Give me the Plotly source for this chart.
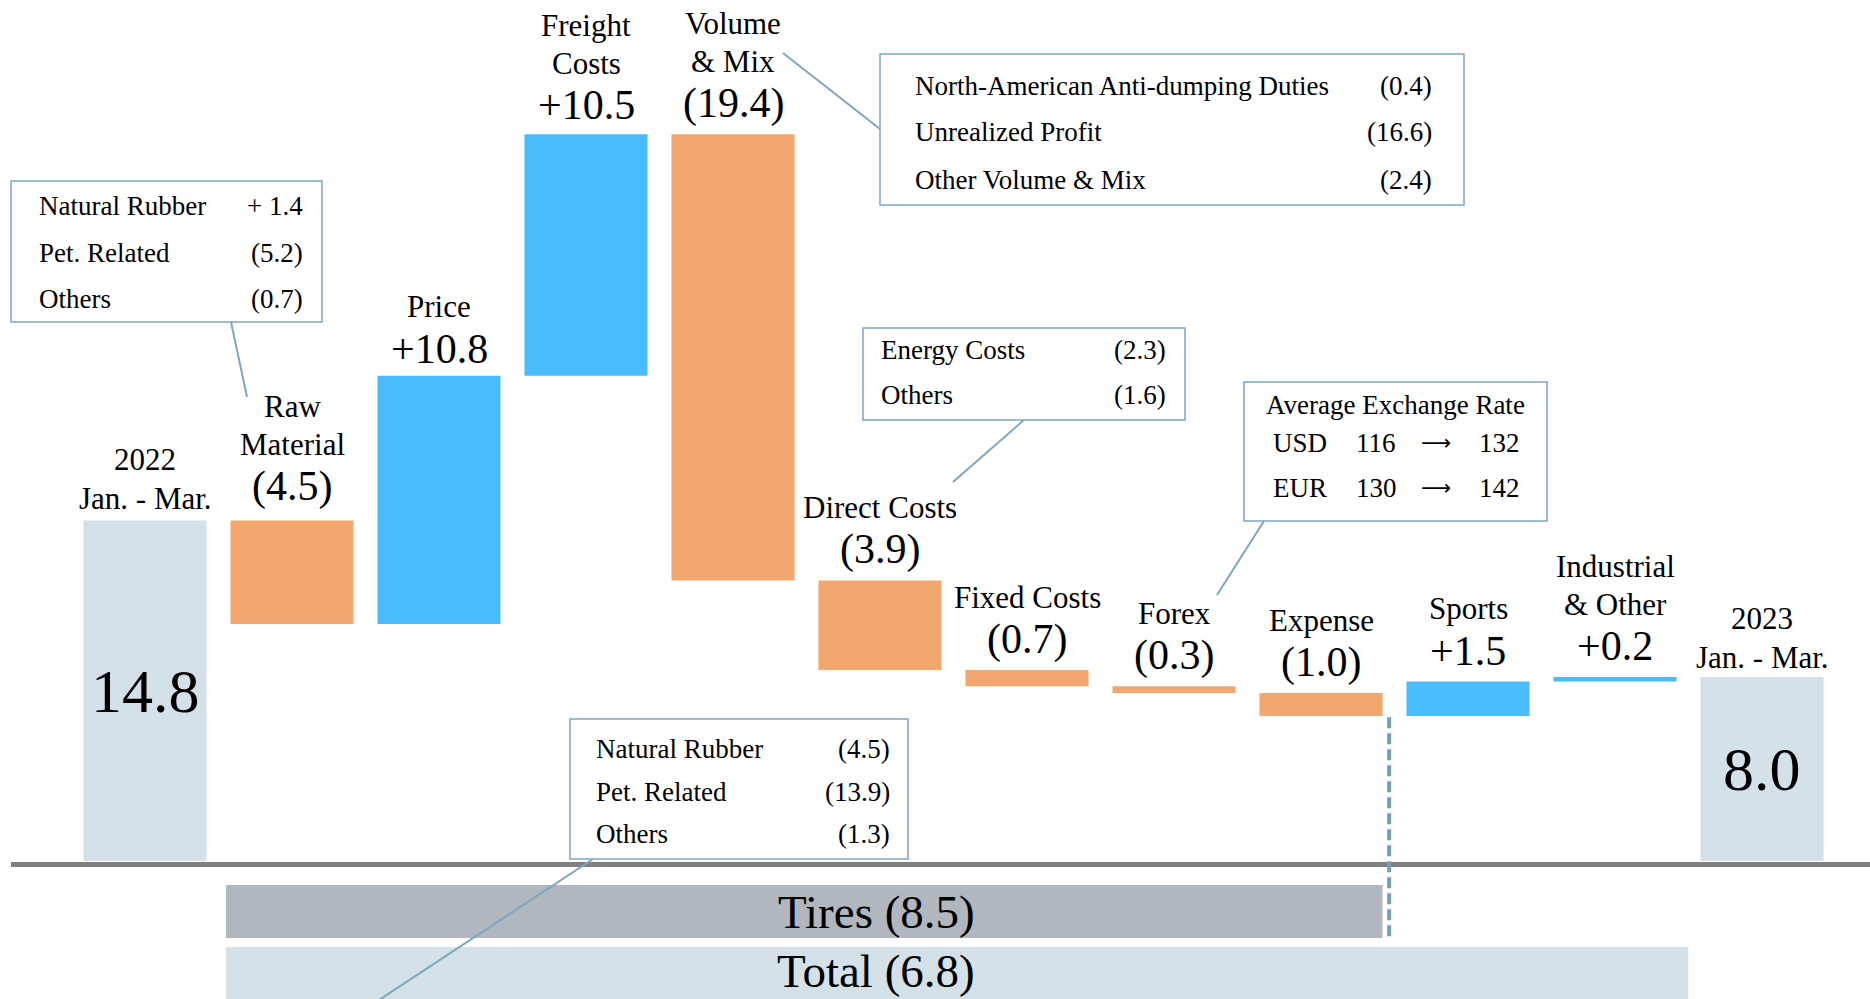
import plotly.graph_objects as go

# ---------------- data ----------------
categories = ["2022 Jan. - Mar.", "Raw Material", "Price", "Freight Costs", "Volume & Mix",
              "Direct Costs", "Fixed Costs", "Forex", "Expense", "Sports",
              "Industrial & Other", "2023 Jan. - Mar."]
values = [14.8, -4.5, 10.8, 10.5, -19.4, -3.9, -0.7, -0.3, -1.0, 1.5, 0.2, 8.0]
measures = ["absolute"] + ["relative"] * 10 + ["total"]
name_lines = [["2022", "Jan. - Mar."], ["Raw", "Material"], ["Price"], ["Freight", "Costs"],
              ["Volume", "& Mix"], ["Direct Costs"], ["Fixed Costs"], ["Forex"], ["Expense"],
              ["Sports"], ["Industrial", "& Other"], ["2023", "Jan. - Mar."]]
value_labels = ["14.8", "(4.5)", "+10.8", "+10.5", "(19.4)", "(3.9)", "(0.7)", "(0.3)",
                "(1.0)", "+1.5", "+0.2", "8.0"]

segment_labels = ["Tires (8.5)", "Total (6.8)"]

raw_box_names = ["Natural Rubber", "Pet. Related", "Others"]
raw_box_values = ["+ 1.4", "(5.2)", "(0.7)"]
vm_box_names = ["North-American Anti-dumping Duties", "Unrealized Profit", "Other Volume & Mix"]
vm_box_values = ["(0.4)", "(16.6)", "(2.4)"]
direct_box_names = ["Energy Costs", "Others"]
direct_box_values = ["(2.3)", "(1.6)"]
fx_title = "Average Exchange Rate"
fx_currency = ["USD", "EUR"]
fx_from = ["116", "130"]
fx_to = ["132", "142"]
bottom_box_names = ["Natural Rubber", "Pet. Related", "Others"]
bottom_box_values = ["(4.5)", "(13.9)", "(1.3)"]

# ---------------- style ----------------
W, H = 1870, 999
FONT = "Liberation Serif"
BLUE = "#4ABCFD"
ORANGE = "#F2A76F"
LIGHT = "#D4E1E8"
GREY_BAR = "#B0B7BE"
BOX_LINE = "#7FA6BD"
BASE_LINE = "#808080"
BAR_W = 0.837
# small per-bar vertical tweaks of the label block (pixels)
label_tweak = {"Raw Material": 3, "Price": -4, "Freight Costs": -2, "2023 Jan. - Mar.": -2}


def px(x):
    return x / W


def py(y):
    return 1 - y / H


fig = go.Figure()
fig.add_trace(go.Waterfall(
    x=list(range(len(categories))),
    y=values,
    measure=measures,
    width=BAR_W,
    increasing=dict(marker=dict(color=BLUE)),
    decreasing=dict(marker=dict(color=ORANGE)),
    totals=dict(marker=dict(color=LIGHT)),
    connector=dict(visible=False),
    textposition="none",
    hoverinfo="skip",
))

annotations = []

tops, bottoms = [], []
run = 0.0
for v, m in zip(values, measures):
    if m == "relative":
        lo, hi = min(run, run + v), max(run, run + v)
        run += v
    else:
        lo, hi = 0.0, v
        run = v
    tops.append(hi)
    bottoms.append(lo)

LABEL_SIZE = 31
VALUE_SIZE = 42
for i, cat in enumerate(categories):
    tw = label_tweak.get(cat, 0)
    if measures[i] == "relative":
        annotations.append(dict(x=i, y=tops[i], xref="x", yref="y", text=value_labels[i],
                                showarrow=False, yanchor="middle", yshift=31 + tw,
                                font=dict(family=FONT, size=VALUE_SIZE, color="black")))
        for k, line in enumerate(reversed(name_lines[i])):
            annotations.append(dict(x=i, y=tops[i], xref="x", yref="y", text=line,
                                    showarrow=False, yanchor="middle", yshift=73 + 38 * k + tw,
                                    font=dict(family=FONT, size=LABEL_SIZE, color="black")))
    else:
        annotations.append(dict(x=i, y=tops[i] / 2, xref="x", yref="y", text=value_labels[i],
                                showarrow=False, yanchor="middle",
                                font=dict(family=FONT, size=62, color="black")))
        for k, line in enumerate(reversed(name_lines[i])):
            annotations.append(dict(x=i, y=tops[i], xref="x", yref="y", text=line,
                                    showarrow=False, yanchor="middle", yshift=22 + 39 * k + tw,
                                    font=dict(family=FONT, size=LABEL_SIZE, color="black")))

shapes = []

# baseline
shapes.append(dict(type="line", xref="paper", yref="y", x0=px(11), x1=1, y0=-0.15, y1=-0.15,
                   line=dict(color=BASE_LINE, width=5), layer="above"))

# segment bars (Tires / Total)
i_raw = categories.index("Raw Material")
i_exp = categories.index("Expense")
i_ind = categories.index("Industrial & Other")
tires_y = (-1.04, -3.35)
total_y = (-3.74, -7.0)
seg_x0 = i_raw - BAR_W / 2 - 0.03
shapes.append(dict(type="rect", xref="x", yref="y", x0=seg_x0, x1=i_exp + BAR_W / 2,
                   y0=tires_y[0], y1=tires_y[1], fillcolor=GREY_BAR, line=dict(width=0), layer="below"))
shapes.append(dict(type="rect", xref="x", yref="y", x0=seg_x0, x1=i_ind + BAR_W / 2 + 0.08,
                   y0=total_y[0], y1=total_y[1], fillcolor=LIGHT, line=dict(width=0), layer="below"))
annotations.append(dict(x=px(876), y=sum(tires_y) / 2, xref="paper", yref="y", text=segment_labels[0],
                        showarrow=False, yanchor="middle", yshift=-1,
                        font=dict(family=FONT, size=47, color="black")))
annotations.append(dict(x=px(876), y=-4.95, xref="paper", yref="y", text=segment_labels[1],
                        showarrow=False, yanchor="middle", yshift=4,
                        font=dict(family=FONT, size=47, color="black")))

# dashed separator after Expense
sep_x = i_exp + BAR_W / 2 + 0.045
shapes.append(dict(type="line", xref="x", yref="y", x0=sep_x, x1=sep_x,
                   y0=bottoms[i_exp] - 0.05, y1=tires_y[1],
                   line=dict(color="#74A0B8", width=4, dash="11px,5px")))


def add_box(x0, y0, x1, y1):
    shapes.append(dict(type="rect", xref="paper", yref="paper", x0=px(x0), x1=px(x1),
                       y0=py(y1), y1=py(y0), line=dict(color=BOX_LINE, width=1.5),
                       fillcolor="white", layer="above"))


def add_leader(xa, ya, xb, yb):
    shapes.append(dict(type="line", xref="paper", yref="paper", x0=px(xa), y0=py(ya),
                       x1=px(xb), y1=py(yb), line=dict(color=BOX_LINE, width=2)))


def add_text(x, y, t, anchor, size=27, family=FONT):
    annotations.append(dict(x=px(x), y=py(y), xref="paper", yref="paper", text=t,
                            showarrow=False, xanchor=anchor, yanchor="middle",
                            font=dict(family=family, size=size, color="black")))


# Raw material box
add_box(11, 181, 322, 322)
add_leader(231, 322, 247, 397)
for n, v, y in zip(raw_box_names, raw_box_values, [206, 252.5, 299]):
    add_text(37, y, n, "left")
    add_text(305, y, v, "right")

# Volume & Mix box
add_box(880, 54, 1464, 205)
add_leader(783, 53, 880, 129)
for n, v, y in zip(vm_box_names, vm_box_values, [86, 132, 180]):
    add_text(913, y, n, "left")
    add_text(1434, y, v, "right")

# Direct costs box
add_box(863, 328, 1185, 420)
add_leader(1024, 420, 953, 482)
for n, v, y in zip(direct_box_names, direct_box_values, [349.5, 395]):
    add_text(879, y, n, "left")
    add_text(1168, y, v, "right")

# Forex box
add_box(1244, 382, 1547, 521)
add_leader(1264, 521, 1217, 595)
add_text(1395, 404.5, fx_title, "center")
for c, a, b, y in zip(fx_currency, fx_from, fx_to, [442.5, 488]):
    add_text(1271, y, c, "left")
    add_text(1376, y, a, "center")
    add_text(1436, y, "\u27F6", "center", size=21, family="DejaVu Sans")
    add_text(1499, y, b, "center")

# Bottom raw material detail box
add_box(570, 719, 908, 859)
add_leader(593, 859, 379, 1000)
for n, v, y in zip(bottom_box_names, bottom_box_values, [749, 792, 834]):
    add_text(594, y, n, "left")
    add_text(892, y, v, "right")

x_lo = -145 / 147
x_hi = (W - 145) / 147
y_hi = 861 / 23
y_lo = (861 - H) / 23

fig.update_layout(
    width=W, height=H,
    margin=dict(l=0, r=0, t=0, b=0),
    paper_bgcolor="white", plot_bgcolor="white",
    showlegend=False,
    xaxis=dict(range=[x_lo, x_hi], visible=False, showgrid=False, zeroline=False),
    yaxis=dict(range=[y_lo, y_hi], visible=False, showgrid=False, zeroline=False),
    shapes=shapes,
    annotations=annotations,
)

fig.write_html("out.html")
